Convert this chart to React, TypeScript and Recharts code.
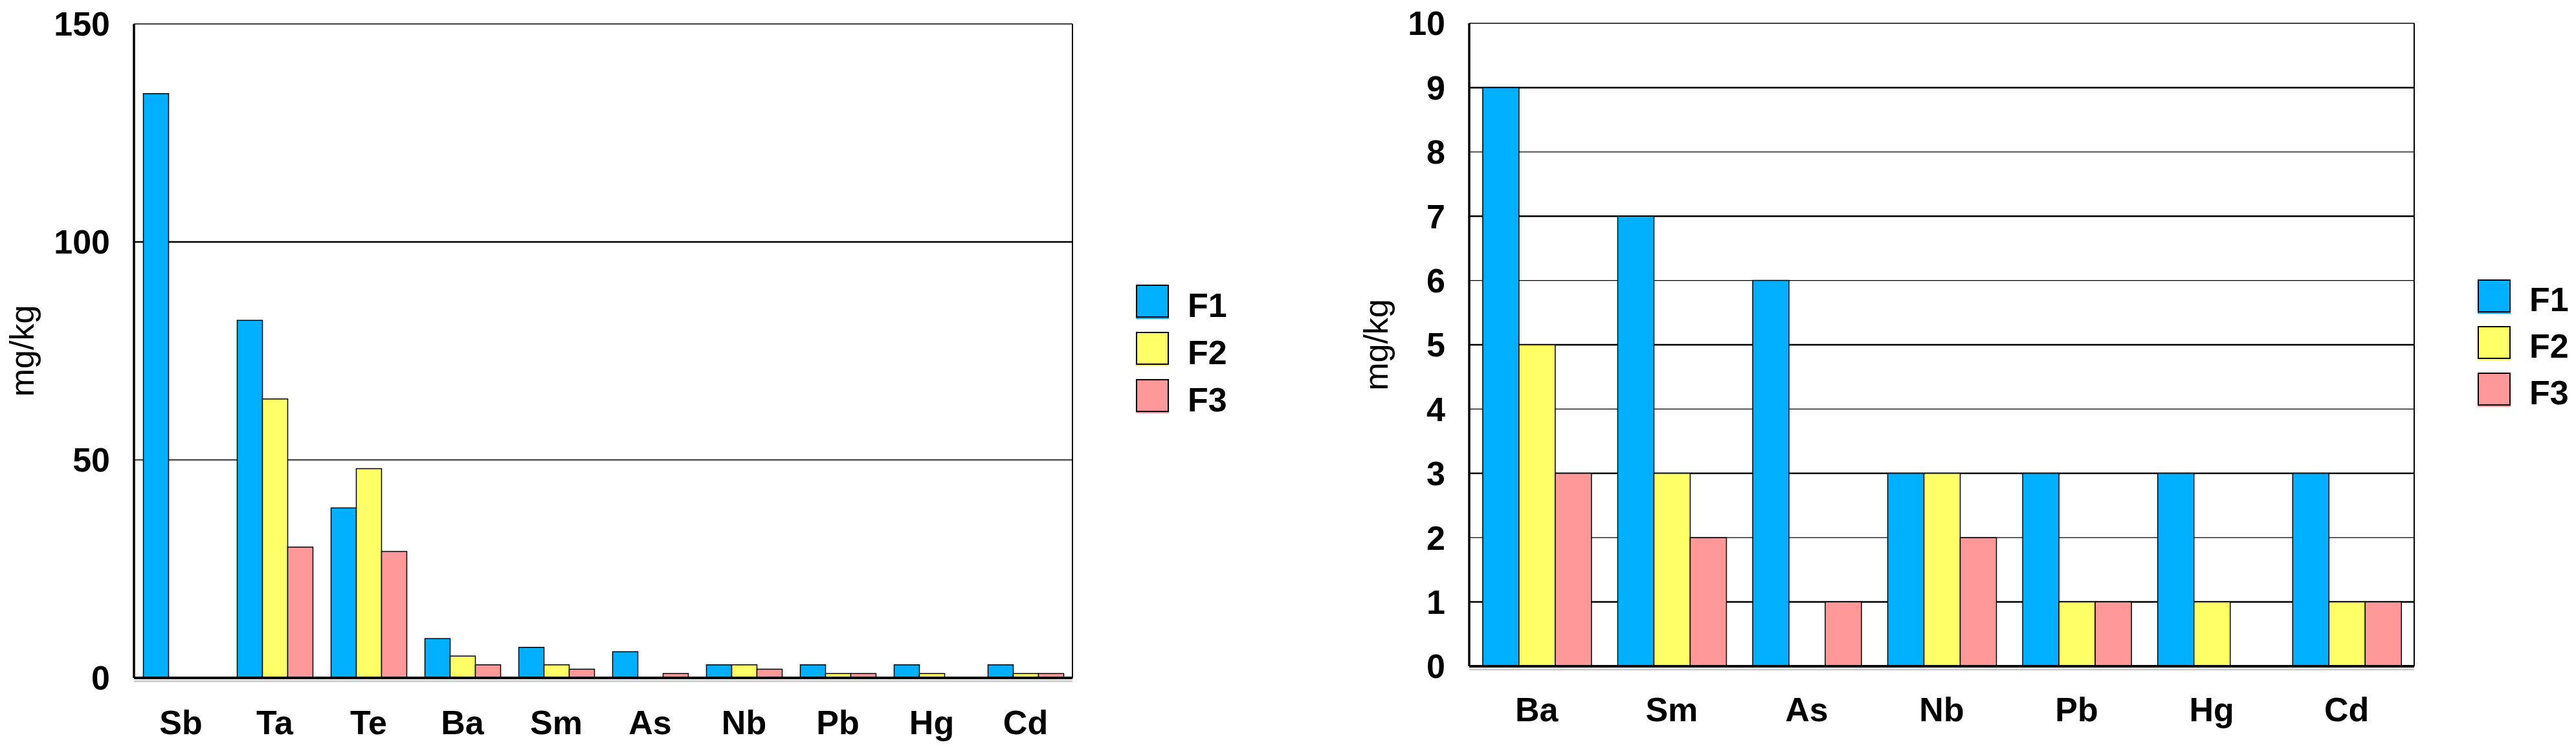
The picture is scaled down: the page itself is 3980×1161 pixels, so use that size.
import React from 'react';
import { BarChart, Bar, XAxis, YAxis, CartesianGrid, Legend, ReferenceLine } from 'recharts';

const FONT = '"Liberation Sans", Arial, Helvetica, sans-serif';

// left panel: all elements
const leftElements = ['Sb', 'Ta', 'Te', 'Ba', 'Sm', 'As', 'Nb', 'Pb', 'Hg', 'Cd'];
const leftF1 = [134, 82, 39, 9, 7, 6, 3, 3, 3, 3];
const leftF2 = [0, 64, 48, 5, 3, 0, 3, 1, 1, 1];
const leftF3 = [0, 30, 29, 3, 2, 1, 2, 1, 0, 1];
const leftTicks = [0, 50, 100, 150];

// right panel: the small ones, zoomed
const rightElements = ['Ba', 'Sm', 'As', 'Nb', 'Pb', 'Hg', 'Cd'];
const rightF1 = [9, 7, 6, 3, 3, 3, 3];
const rightF2 = [5, 3, 0, 3, 1, 1, 1];
const rightF3 = [3, 2, 1, 2, 1, 0, 1];
const rightTicks = [0, 1, 2, 3, 4, 5, 6, 7, 8, 9, 10];

const seriesNames = ['F1', 'F2', 'F3'];
const seriesColors = ['#00B0FF', '#FFFF66', '#FF9999'];

const renderLegend = (pitch: number) => (props: any) => {
  const { payload } = props;
  return (
    <div style={{ fontFamily: FONT, fontWeight: 'bold', fontSize: 52, color: '#000' }}>
      {payload.map((entry: any) => (
        <div key={entry.value} style={{ display: 'flex', alignItems: 'center', height: pitch }}>
          <span
            style={{
              display: 'inline-block',
              width: 51,
              height: 51,
              boxSizing: 'border-box',
              border: '2px solid #000',
              background: entry.color,
              boxShadow: `0 2px 0 ${entry.color}`,
            }}
          />
          <span style={{ marginLeft: 29, position: 'relative', top: 6, lineHeight: 1 }}>{entry.value}</span>
        </div>
      ))}
    </div>
  );
};

interface PanelProps {
  categories: string[];
  f1: number[];
  f2: number[];
  f3: number[];
  ticks: number[];
  boldGrid: number[];
  left: number;
  width: number;
  yAxisWidth: number;
  top: number;
  xAxisHeight: number;
  right: number;
  labelOffset: number;
  tickGap: number;
  legendLeft: number;
  legendTop: number;
  legendPitch: number;
}

function Panel(p: PanelProps) {
  const height = 1161;
  const data = p.categories.map((c, i) => ({ name: c, F1: p.f1[i], F2: p.f2[i], F3: p.f3[i] }));
  const max = p.ticks[p.ticks.length - 1];
  const plotTop = p.top;
  const plotBottom = height - p.xAxisHeight;
  const plotRight = p.width - p.right;

  const gridLine = (g: any) => {
    const v = Math.round((max * (plotBottom - g.y1)) / (plotBottom - plotTop));
    return (
      <line
        key={g.key}
        x1={g.x1}
        y1={g.y1}
        x2={g.x2}
        y2={g.y2}
        stroke="#000"
        strokeWidth={p.boldGrid.includes(v) ? 2.5 : 1.3}
      />
    );
  };

  // right edge of the plot frame
  const frameLine = (g: any) => (
    <line key={g.key} x1={g.x1} y1={g.y1} x2={g.x2} y2={g.y2} stroke="#000" strokeWidth={2} />
  );

  const shadow = (s: any) => (
    <line x1={s.x1} y1={s.y1 + 5} x2={s.x2} y2={s.y2 + 5} stroke="#cccccc" strokeWidth={3} />
  );

  return (
    <div style={{ position: 'absolute', left: p.left, top: 0 }}>
      <BarChart
        width={p.width}
        height={height}
        data={data}
        margin={{ top: p.top, right: p.right, bottom: 0, left: 0 }}
        barCategoryGap="10%"
        barGap={0}
      >
        <CartesianGrid
          horizontal={gridLine}
          vertical={frameLine}
          verticalCoordinatesGenerator={(args: any) =>
            args && args.offset ? [args.offset.left + args.offset.width] : [plotRight]
          }
        />
        <XAxis
          dataKey="name"
          height={p.xAxisHeight}
          interval={0}
          tickLine={false}
          tickSize={0}
          tickMargin={p.tickGap}
          axisLine={{ stroke: '#000', strokeWidth: 4 }}
          tick={{ fontFamily: FONT, fontSize: 52, fontWeight: 'bold', fill: '#000' }}
        />
        <YAxis
          width={p.yAxisWidth}
          domain={[0, max]}
          ticks={p.ticks}
          interval={0}
          tickLine={false}
          tickSize={0}
          tickMargin={37}
          axisLine={{ stroke: '#000', strokeWidth: 3.5 }}
          tick={{ fontFamily: FONT, fontSize: 52, fontWeight: 'bold', fill: '#000' }}
          label={{
            value: 'mg/kg',
            angle: -90,
            position: 'insideLeft',
            offset: p.labelOffset,
            style: { textAnchor: 'middle', fontFamily: FONT, fontSize: 52, fill: '#000' },
          }}
        />
        <ReferenceLine y={0} shape={shadow} />
        <Legend
          layout="vertical"
          align="center"
          verticalAlign="middle"
          content={renderLegend(p.legendPitch)}
          wrapperStyle={{ left: p.legendLeft, top: p.legendTop, width: 'auto' }}
        />
        {seriesNames.map((s, i) => (
          <Bar
            key={s}
            dataKey={s}
            name={s}
            fill={seriesColors[i]}
            stroke="#000"
            strokeWidth={1.5}
            isAnimationActive={false}
          />
        ))}
      </BarChart>
    </div>
  );
}

export default function App() {
  return (
    <div style={{ position: 'absolute', left: 0, top: 0, width: 3980, height: 1161, background: '#fff' }}>
      <Panel
        categories={leftElements}
        f1={leftF1}
        f2={leftF2}
        f3={leftF3}
        ticks={leftTicks}
        boldGrid={[100]}
        left={0}
        width={1960}
        yAxisWidth={207}
        top={37}
        xAxisHeight={113}
        right={303}
        labelOffset={34}
        tickGap={50}
        legendLeft={1755}
        legendTop={429}
        legendPitch={73}
      />
      <Panel
        categories={rightElements}
        f1={rightF1}
        f2={rightF2}
        f3={rightF3}
        ticks={rightTicks}
        boldGrid={[1, 3, 5, 7, 9]}
        left={2000}
        width={1980}
        yAxisWidth={270}
        top={36}
        xAxisHeight={131}
        right={250}
        labelOffset={126}
        tickGap={48}
        legendLeft={1828}
        legendTop={421}
        legendPitch={72}
      />
    </div>
  );
}
